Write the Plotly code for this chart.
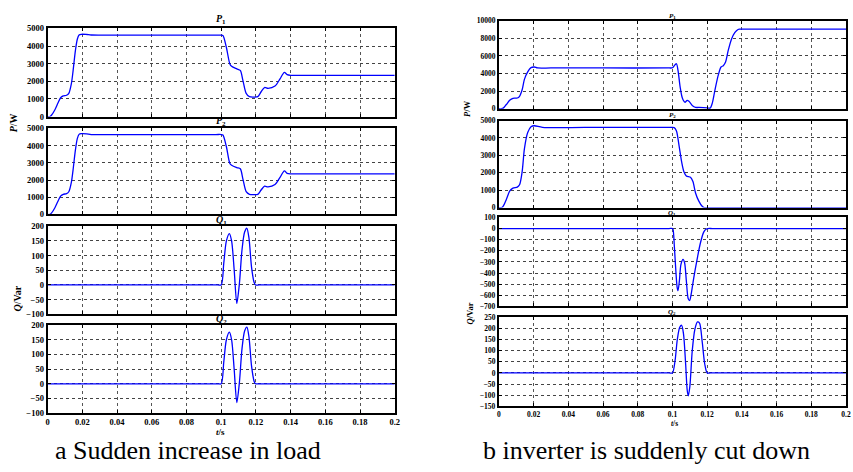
import plotly.graph_objects as go

# ---------------- data ----------------
# Panel a: sudden increase in load
a_p1_t = [0, 0.0013, 0.0023, 0.0042, 0.0061, 0.0076, 0.009, 0.0109, 0.0122, 0.0137, 0.0147, 0.016, 0.0171,
          0.0181, 0.0194, 0.0225, 0.0251, 0.05, 0.097, 0.1, 0.101, 0.103, 0.105, 0.106, 0.109, 0.111, 0.1125,
          0.1144, 0.1163, 0.1185, 0.1211, 0.123, 0.125, 0.127, 0.131, 0.134, 0.1364, 0.138, 0.14, 0.145,
          0.17, 0.2]
a_p1_v = [0, 0, 90, 390, 800, 1080, 1170, 1210, 1320, 1880, 2620, 3740, 4390,
          4630, 4670, 4660, 4630, 4620, 4620, 4620, 4600, 3920, 2990, 2860, 2710, 2620, 2060,
          1320, 1130, 1110, 1130, 1410, 1650, 1600, 1730, 2160, 2510, 2380, 2340, 2340,
          2340, 2340]

a_p2_t = [0, 0.0013, 0.0023, 0.0042, 0.0061, 0.0076, 0.009, 0.0109, 0.0122, 0.0137, 0.0147, 0.016, 0.0171,
          0.0181, 0.0194, 0.0225, 0.0251, 0.05, 0.097, 0.1, 0.101, 0.103, 0.105, 0.106, 0.109, 0.111, 0.1125,
          0.1144, 0.1163, 0.1185, 0.1211, 0.123, 0.125, 0.127, 0.131, 0.134, 0.1364, 0.138, 0.14, 0.145,
          0.17, 0.2]
a_p2_v = [0, 0, 90, 390, 800, 1080, 1170, 1210, 1320, 1880, 2620, 3740, 4400,
          4650, 4690, 4680, 4640, 4640, 4640, 4640, 4610, 3930, 2960, 2860, 2720, 2650, 2070,
          1320, 1170, 1150, 1170, 1420, 1640, 1600, 1740, 2170, 2530, 2390, 2360, 2360,
          2360, 2360]

a_q1_t = [0, 0.05, 0.098, 0.1, 0.1015, 0.103, 0.1047, 0.106, 0.1075, 0.109, 0.1105, 0.112, 0.1135, 0.1148,
          0.116, 0.1175, 0.119, 0.1198, 0.122, 0.16, 0.2]
a_q1_v = [0, 0, 0, 0, 75, 150, 175, 150, 50, -63, 5, 120, 180, 193,
          160, 60, 8, 0, 0, 0, 0]

a_q2_t = [0, 0.05, 0.098, 0.1, 0.1015, 0.103, 0.1047, 0.106, 0.1075, 0.109, 0.1105, 0.112, 0.1135, 0.1148,
          0.116, 0.1175, 0.119, 0.1198, 0.122, 0.16, 0.2]
a_q2_v = [0, 0, 0, 0, 75, 150, 176, 150, 48, -64, 5, 120, 180, 193,
          160, 60, 8, 0, 0, 0, 0]

# Panel b: inverter is suddenly cut down
b_p1_t = [0, 0.0015, 0.0025, 0.0043, 0.0062, 0.0081, 0.0106, 0.0119, 0.0134, 0.0147, 0.0166, 0.0185,
          0.0204, 0.0223, 0.03, 0.06, 0.098, 0.1, 0.1015, 0.1023, 0.1032, 0.1044, 0.1057, 0.1072, 0.1085,
          0.1095, 0.1114, 0.1133, 0.1152, 0.1199, 0.1217, 0.123, 0.1245, 0.1264, 0.128, 0.1293, 0.1306,
          0.1321, 0.134, 0.1359, 0.1378, 0.1387, 0.145, 0.17, 0.2]
b_p1_v = [0, 0, 70, 480, 960, 1190, 1220, 1410, 2150, 3330, 4190, 4670,
          4740, 4630, 4630, 4630, 4630, 4650, 5000, 5110, 4370, 2520, 1220, 740, 960,
          850, 370, 150, 150, 110, 70, 670, 2150, 3810, 4740, 4890, 5300,
          6590, 7890, 8630, 9000, 9040, 9040, 9040, 9040]

b_p2_t = [0, 0.0015, 0.0025, 0.0043, 0.0062, 0.0081, 0.0106, 0.0119, 0.0134, 0.0147, 0.0166, 0.0185,
          0.0204, 0.0251, 0.05, 0.098, 0.101, 0.1023, 0.1038, 0.1053, 0.1066, 0.108, 0.1104, 0.1118,
          0.1133, 0.1152, 0.117, 0.1183, 0.121, 0.16, 0.2]
b_p2_v = [0, 0, 90, 470, 940, 1120, 1180, 1310, 2060, 3370, 4310, 4640,
          4700, 4610, 4600, 4600, 4590, 4400, 3560, 2620, 2060, 1820, 1740, 1500,
          840, 370, 90, 0, 0, 0, 0]

b_q1_t = [0, 0.05, 0.098, 0.1, 0.1004, 0.1011, 0.1019, 0.1027, 0.1032, 0.104, 0.1049, 0.1061, 0.107,
          0.108, 0.1091, 0.1099, 0.1108, 0.1123, 0.1142, 0.1161, 0.118, 0.1193, 0.1205, 0.123, 0.16, 0.2]
b_q1_v = [0, 0, 0, 0, -12, -160, -366, -528, -558, -469, -322, -277, -307,
          -469, -631, -646, -587, -440, -277, -130, -32, -6, 0, 0, 0, 0]

b_q2_t = [0, 0.05, 0.098, 0.1, 0.1015, 0.1028, 0.1042, 0.1053, 0.1064, 0.1076, 0.1085, 0.1091, 0.11,
          0.1114, 0.1129, 0.1144, 0.1156, 0.1171, 0.1186, 0.12, 0.122, 0.16, 0.2]
b_q2_v = [0, 0, 0, 0, 55, 150, 205, 214, 173, 40, -78, -103, -63,
          99, 195, 229, 224, 143, 40, 0, 0, 0, 0]

x_ticks = [0, 0.02, 0.04, 0.06, 0.08, 0.1, 0.12, 0.14, 0.16, 0.18, 0.2]
x_ticktext = ["0", "0.02", "0.04", "0.06", "0.08", "0.1", "0.12", "0.14", "0.16", "0.18", "0.2"]

titles = ["P", "P", "Q", "Q"]
subs = ["1", "2", "1", "2"]
captions = ["a Sudden increase in load", "b inverter is suddenly cut down"]

# y ranges/dticks per subplot
a_ranges = [(0, 5000, 1000), (0, 5000, 1000), (-100, 200, 50), (-100, 200, 50)]
b_ranges = [(0, 10000, 2000), (0, 5000, 1000), (-700, 100, 100), (-150, 250, 50)]

# ---------------- layout geometry (pixels) ----------------
W, H = 853, 472
def px(x):
    return x / W
def py(y):
    return 1 - y / H

a_x = (46, 396)
b_x = (501, 851)
a_rows = [(24, 114), (126, 214), (226, 316), (327, 417)]
b_rows = [(16, 106), (118, 207), (217, 308), (319, 410)]
a_title_y = [15, 119, 220, 321]
b_title_y = [11, 112, 212, 314]

series = [
    (a_p1_t, a_p1_v), (a_p2_t, a_p2_v), (a_q1_t, a_q1_v), (a_q2_t, a_q2_v),
    (b_p1_t, b_p1_v), (b_p2_t, b_p2_v), (b_q1_t, b_q1_v), (b_q2_t, b_q2_v),
]

fig = go.Figure()
layout = {}
annotations = []
SERIF = "Liberation Serif, Times New Roman, serif"

for i, (t, v) in enumerate(series):
    n = i + 1
    xa = "x" if n == 1 else f"x{n}"
    ya = "y" if n == 1 else f"y{n}"
    fig.add_trace(go.Scatter(x=t, y=v, mode="lines", xaxis=xa, yaxis=ya,
                             line=dict(color="#0000FF", width=1.3, shape="spline", smoothing=0.8),
                             showlegend=False, hoverinfo="skip"))
    panel_b = i >= 4
    r = i % 4
    xdom = b_x if panel_b else a_x
    rows = b_rows if panel_b else a_rows
    rng = (b_ranges if panel_b else a_ranges)[r]
    top, bot = rows[r]
    fs_x = 7.5 if panel_b else 8.5
    fs_y = 7.5 if panel_b else 8.5
    xkey = "xaxis" if n == 1 else f"xaxis{n}"
    ykey = "yaxis" if n == 1 else f"yaxis{n}"
    layout[xkey] = dict(
        domain=[px(xdom[0]), px(xdom[1])], anchor=ya, range=[0, 0.2],
        tickvals=x_ticks, ticktext=x_ticktext, showticklabels=(r == 3),
        ticks="inside", ticklen=3, tickcolor="black", tickwidth=1,
        showline=True, linecolor="black", linewidth=2, mirror="allticks",
        showgrid=True, gridcolor="#555555", griddash="dot", gridwidth=1,
        zeroline=False, fixedrange=True,
        tickfont=dict(family=SERIF, size=fs_x, color="black", weight="bold"),
    )
    ylo, yhi, dt = rng
    layout[ykey] = dict(
        domain=[py(bot), py(top)], anchor=xa, range=[ylo, yhi],
        tick0=ylo, dtick=dt, tickformat="d", ticks="inside", ticklen=3, tickcolor="black", tickwidth=1,
        showline=True, linecolor="black", linewidth=2, mirror="allticks",
        showgrid=True, gridcolor="#444444", griddash="dot", gridwidth=1,
        zeroline=False, fixedrange=True,
        tickfont=dict(family=SERIF, size=fs_y, color="black", weight="bold"),
    )
    title_x = 676 if panel_b else 221
    title_y = (b_title_y if panel_b else a_title_y)[r]
    annotations.append(dict(
        text=f"<i>{titles[r]}</i><sub>{subs[r]}</sub>", x=px(title_x), y=py(title_y),
        xref="paper", yref="paper", showarrow=False, xanchor="center", yanchor="middle",
        font=dict(family=SERIF, size=(7 if panel_b else 10), color="black", weight="bold")))

# axis labels
for (x, y, txt, fs) in [(12, 120, "<i>P</i>/W", 10), (16, 300, "<i>Q</i>/Var", 10),
                        (469, 106, "<i>P</i>/W", 8.5), (472, 315, "<i>Q</i>/Var", 8.5)]:
    annotations.append(dict(text=txt, x=px(x), y=py(y), xref="paper", yref="paper", showarrow=False,
                            textangle=-90, xanchor="center", yanchor="middle",
                            font=dict(family=SERIF, size=fs, color="black", weight="bold")))
for (x, y, fs) in [(220, 436, 9), (678, 428, 7.5)]:
    annotations.append(dict(text="<i>t</i>/s", x=px(x), y=py(y), xref="paper", yref="paper",
                            showarrow=False, xanchor="center", yanchor="middle",
                            font=dict(family=SERIF, size=fs, color="black", weight="bold")))
# captions
for (x, y, txt) in [(188, 455, captions[0]), (650, 455, captions[1])]:
    annotations.append(dict(text=txt, x=px(x), y=py(y), xref="paper", yref="paper",
                            showarrow=False, xanchor="center", yanchor="middle",
                            font=dict(family=SERIF, size=26, color="black")))

fig.update_layout(**layout)
fig.update_layout(width=W, height=H, margin=dict(l=0, r=0, t=0, b=0),
                  paper_bgcolor="white", plot_bgcolor="white", annotations=annotations,
                  showlegend=False)
fig.write_html("out.html", config={"displayModeBar": False})
